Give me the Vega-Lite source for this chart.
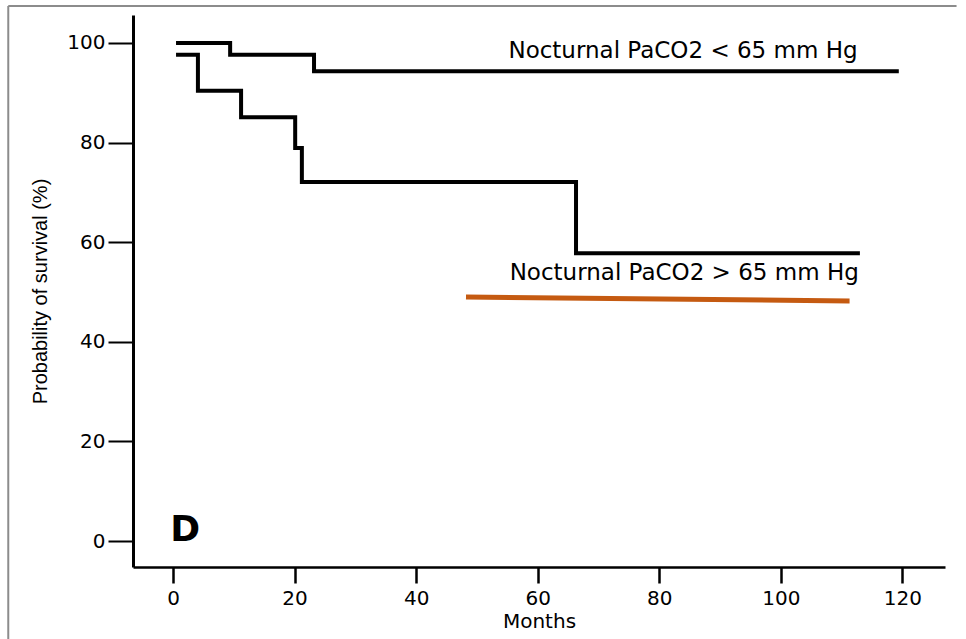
{
  "$schema": "https://vega.github.io/schema/vega-lite/v6.json",
  "width": 812,
  "height": 552,
  "autosize": {"type": "none"},
  "padding": {"left": 133, "top": 15, "right": 21, "bottom": 72},
  "background": "white",
  "config": {
    "view": {"stroke": null},
    "axis": {"grid": false, "domainColor": "black", "tickColor": "black", "labelColor": "black", "titleColor": "black", "labelFont": "DejaVu Sans", "labelFontSize": 20, "titleFontWeight": "normal"}
  },
  "datasets": {
    "curves": [
      {"group": "low", "month": 0.5, "survival": 100},
      {"group": "low", "month": 9.4, "survival": 97.6},
      {"group": "low", "month": 23.2, "survival": 94.3},
      {"group": "low", "month": 119.4, "survival": 94.3},
      {"group": "high", "month": 0.5, "survival": 97.6},
      {"group": "high", "month": 4.1, "survival": 90.4},
      {"group": "high", "month": 11.2, "survival": 85.1},
      {"group": "high", "month": 20.1, "survival": 78.9},
      {"group": "high", "month": 21.2, "survival": 72.1},
      {"group": "high", "month": 66.3, "survival": 57.8},
      {"group": "high", "month": 113, "survival": 57.8}
    ],
    "orange": [
      {"month": 48.2, "survival": 49.0},
      {"month": 111.3, "survival": 48.2}
    ],
    "labels": [
      {"text": "Nocturnal PaCO2 < 65 mm Hg", "month": 83.9, "survival": 98.4},
      {"text": "Nocturnal PaCO2 > 65 mm Hg", "month": 84.1, "survival": 53.8}
    ],
    "panel": [
      {"text": "D", "month": 2.0, "survival": 2.2}
    ],
    "one": [{"id": 1}]
  },
  "layer": [
    {
      "data": {"name": "one"},
      "mark": {"type": "rule", "color": "#8c8c8c", "strokeWidth": 2, "clip": false},
      "encoding": {
        "x": {"datum": -27.1, "type": "quantitative", "scale": {"domain": [-6.58, 127], "nice": false, "zero": false}},
        "y": {"datum": 107.4, "type": "quantitative"},
        "y2": {"datum": -19.7}
      }
    },
    {
      "data": {"name": "one"},
      "mark": {"type": "rule", "color": "#8c8c8c", "strokeWidth": 2, "clip": false},
      "encoding": {
        "x": {"datum": -27.1, "type": "quantitative"},
        "x2": {"datum": 128.9},
        "y": {"datum": 107.4, "type": "quantitative"}
      }
    },
    {
      "data": {"name": "curves"},
      "mark": {"type": "line", "interpolate": "step-after", "color": "black", "strokeWidth": 4, "strokeCap": "butt", "strokeJoin": "miter"},
      "encoding": {
        "detail": {"field": "group"},
        "x": {
          "field": "month", "type": "quantitative",
          "scale": {"domain": [-6.58, 127], "nice": false, "zero": false},
          "axis": {"values": [0, 20, 40, 60, 80, 100, 120], "title": "Months", "titleFont": "DejaVu Sans", "titleFontSize": 20, "titlePadding": 3, "tickSize": 16, "tickWidth": 2.5, "domainWidth": 2.5, "labelPadding": 5}
        },
        "y": {
          "field": "survival", "type": "quantitative",
          "scale": {"domain": [-5.2, 105.6], "nice": false, "zero": false},
          "axis": {"values": [0, 20, 40, 60, 80, 100], "title": "Probability of survival (%)", "titleFont": "Liberation Sans", "titleFontSize": 20, "titlePadding": 16, "tickSize": 25, "tickWidth": 2, "domainWidth": 3, "labelPadding": 3}
        }
      }
    },
    {
      "data": {"name": "orange"},
      "mark": {"type": "line", "color": "#c55a11", "strokeWidth": 5, "strokeCap": "butt"},
      "encoding": {
        "x": {"field": "month", "type": "quantitative"},
        "y": {"field": "survival", "type": "quantitative"}
      }
    },
    {
      "data": {"name": "labels"},
      "mark": {"type": "text", "font": "DejaVu Sans", "fontSize": 23, "align": "center", "baseline": "middle", "color": "black"},
      "encoding": {
        "x": {"field": "month", "type": "quantitative"},
        "y": {"field": "survival", "type": "quantitative"},
        "text": {"field": "text"}
      }
    },
    {
      "data": {"name": "panel"},
      "mark": {"type": "text", "font": "DejaVu Sans", "fontWeight": "bold", "fontSize": 36, "align": "center", "baseline": "middle", "color": "black"},
      "encoding": {
        "x": {"field": "month", "type": "quantitative"},
        "y": {"field": "survival", "type": "quantitative"},
        "text": {"field": "text"}
      }
    }
  ]
}
